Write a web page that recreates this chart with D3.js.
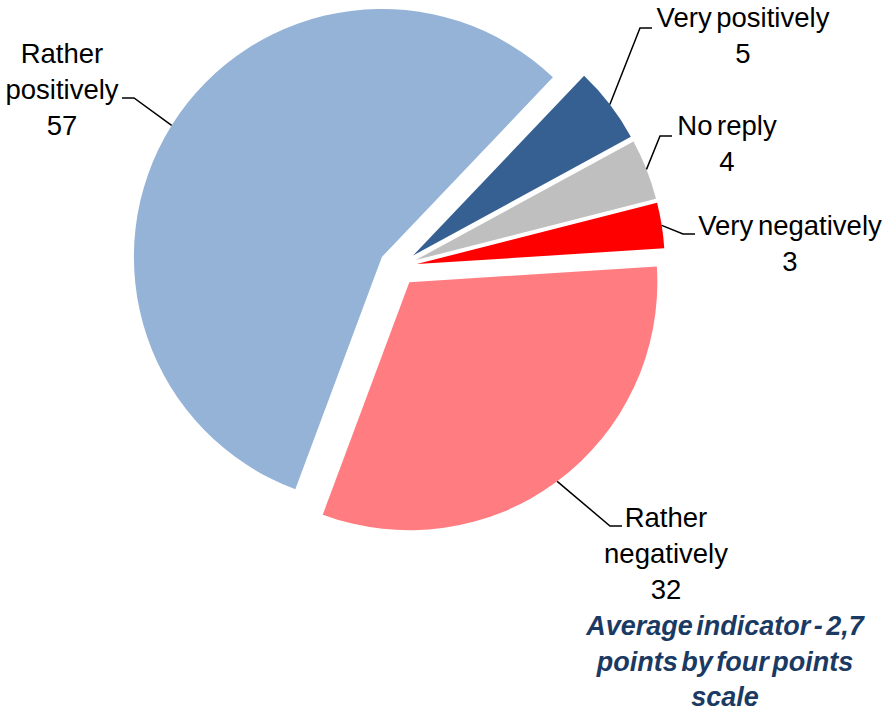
<!DOCTYPE html>
<html>
<head>
<meta charset="utf-8">
<script src="https://cdn.jsdelivr.net/npm/d3@7/dist/d3.min.js"></script>
<style>
  body { margin: 0; background: #fff; }
  svg text { font-family: "Liberation Sans", Arial, sans-serif; }
</style>
</head>
<body>
<svg id="chart" width="888" height="712"></svg>
<script>
// data, clockwise from the first slice
const categories = ['Very positively', 'No reply', 'Very negatively', 'Rather negatively', 'Rather positively']
const values = [5, 4, 3, 32, 57]
const colors = ['#376092', '#bfbfbf', '#ff0000', '#ff7c80', '#95b3d7']
const note = ['Average indicator - 2,7', 'points by four points', 'scale']

// layout
const CENTER = [398, 267]
const RADIUS = 248
const EXPLODE = 19
const START = 43.6 * Math.PI / 180
const LINE_H = 36

// leader elbow, stub end, label centre x and first baseline per slice
const LABELS = [
  { elbow: [640, 28], stub: [652, 28], x: 743, y: 27, wrap: false },
  { elbow: [660, 136], stub: [672, 136], x: 727, y: 135, wrap: false },
  { elbow: [683, 234], stub: [695, 234], x: 790, y: 235, wrap: false },
  { elbow: [610, 526], stub: [622, 526], x: 666, y: 527, wrap: true },
  { elbow: [134, 98], stub: [122, 98], x: 62, y: 63, wrap: true }
]

const svg = d3.select('#chart')

let pie = d3.pie()
  .sort(null)
  .startAngle(START)
  .endAngle(START + 2 * Math.PI)
  .value((d) => d)

let arcs = pie(values)

let arc = d3.arc().innerRadius(0).outerRadius(RADIUS)
let rim = d3.arc().innerRadius(RADIUS).outerRadius(RADIUS)

function offset(d) {
  let mid = (d.startAngle + d.endAngle) / 2
  return [CENTER[0] + EXPLODE * Math.sin(mid), CENTER[1] - EXPLODE * Math.cos(mid)]
}

// slices
svg.append('g')
  .selectAll('path')
  .data(arcs)
  .join('path')
    .attr('transform', (d) => 'translate(' + offset(d) + ')')
    .attr('fill', (d, i) => colors[i])
    .attr('d', arc)

// leader lines
svg.append('g')
  .attr('fill', 'none')
  .attr('stroke', '#000')
  .attr('stroke-width', 1.5)
  .selectAll('polyline')
  .data(arcs)
  .join('polyline')
    .attr('points', (d, i) => {
      let o = offset(d)
      let p = rim.centroid(d)
      let l = LABELS[i]
      return [[o[0] + p[0], o[1] + p[1]], l.elbow, l.stub].join(' ')
    })

// labels
let labels = svg.append('g')
  .attr('font-size', 27.5)
  .attr('word-spacing', -3)
  .attr('fill', '#000')
  .attr('text-anchor', 'middle')

arcs.forEach((d, i) => {
  let l = LABELS[i]
  let lines = (l.wrap ? categories[i].split(' ') : [categories[i]]).concat(String(values[i]))
  let t = labels.append('text').attr('x', l.x).attr('y', l.y)
  lines.forEach((s, j) => {
    t.append('tspan').attr('x', l.x).attr('dy', j ? LINE_H : 0).text(s)
  })
})

// average indicator note
let nt = svg.append('text')
  .attr('x', 725)
  .attr('y', 635)
  .attr('font-size', 27)
  .attr('font-weight', 'bold')
  .attr('font-style', 'italic')
  .attr('word-spacing', -4)
  .attr('fill', '#1b3a63')
  .attr('text-anchor', 'middle')

note.forEach((s, j) => {
  nt.append('tspan').attr('x', 725).attr('dy', j ? LINE_H - 0.5 : 0).text(s)
})
</script>
</body>
</html>
